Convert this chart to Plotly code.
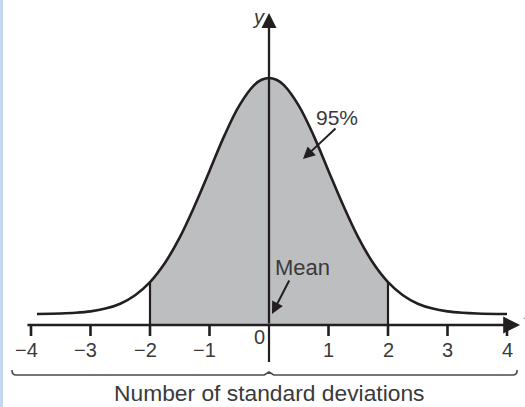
import plotly.graph_objects as go

# ---- data ----
curve_x = [-3.9, -3.5, -3.25, -3.0, -2.75, -2.5, -2.25, -2.0, -1.75, -1.5, -1.25, -1.0,
           -0.75, -0.5, -0.25, -0.125, 0.0, 0.125, 0.25, 0.5, 0.75, 1.0, 1.25, 1.5, 1.75, 2.0,
           2.25, 2.5, 2.75, 3.0, 3.25, 3.5, 4.0]
curve_y = [11.0, 11.5, 12.2, 13.6, 16.4, 21.3, 29.8, 42.9, 62.0, 87.6, 119.2, 154.1,
           189.4, 219.3, 239.8, 245.2, 247.0, 245.2, 239.8, 219.3, 189.4, 154.1, 119.2, 87.6, 62.0, 42.9,
           29.8, 21.3, 16.4, 13.6, 12.2, 11.5, 11.0]
shade_from, shade_to = -2.0, 2.0
tick_values = [-4, -3, -2, -1, 0, 1, 2, 3, 4]
tick_labels = ["\u22124", "\u22123", "\u22122", "\u22121", "0", "1", "2", "3", "4"]
x_title = "Number of standard deviations"
label_pct = "95%"
label_mean = "Mean"

INK = "#231f20"
TXT = "#3a3a3a"
FONT = "Liberation Sans, Arial, sans-serif"

fig = go.Figure()

# shaded area between -2 and 2 (spline filled down to the axis)
sx = [x for x in curve_x if shade_from <= x <= shade_to]
sy = [y for x, y in zip(curve_x, curve_y) if shade_from <= x <= shade_to]
fig.add_trace(go.Scatter(
    x=sx, y=sy, fill="tozeroy", fillcolor="#bcbec0", mode="lines",
    line=dict(color="rgba(0,0,0,0)", width=0, shape="spline"),
    hoverinfo="skip", showlegend=False))

# the curve
fig.add_trace(go.Scatter(
    x=curve_x, y=curve_y, mode="lines", line=dict(color=INK, width=2.6, shape="spline"),
    hoverinfo="skip", showlegend=False))

shapes = []
# vertical edges of the shaded region
for xe, ye in ((sx[0], sy[0]), (sx[-1], sy[-1])):
    shapes.append(dict(type="line", xref="x", yref="y", x0=xe, x1=xe, y0=0, y1=ye,
                       line=dict(color=INK, width=2.2)))
# ticks
for v in tick_values:
    if v != 0:
        shapes.append(dict(type="line", xref="x", yref="y", x0=v, x1=v, y0=0, y1=-11,
                           line=dict(color=INK, width=2.6)))
# y-axis lower extension
shapes.append(dict(type="line", xref="x", yref="y", x0=0, x1=0, y0=-37, y1=0,
                   line=dict(color=INK, width=2.2)))
# brace
bx0, bx1, by = -4.32, 4.17, -50
shapes.append(dict(type="path", xref="x", yref="y",
                   path=(f"M {bx0},{by+5} Q {bx0},{by} {bx0+0.07},{by} "
                         f"L {-0.08},{by} L 0,{by+3} L 0.08,{by} "
                         f"L {bx1-0.07},{by} Q {bx1},{by} {bx1},{by+5}"),
                   line=dict(color="#4a4a4a", width=1.6)))
# left blue border
shapes.append(dict(type="rect", xref="paper", yref="paper", x0=0, x1=3/525, y0=0, y1=1,
                   fillcolor="#c5d8ef", line=dict(width=0)))

annotations = []
# x axis with arrow
annotations.append(dict(x=4.22, y=0, ax=-4.085, ay=0, xref="x", yref="y", axref="x", ayref="y",
                        text="", showarrow=True, arrowhead=2, arrowsize=1.3, arrowwidth=2.6,
                        arrowcolor=INK))
# y axis with arrow
annotations.append(dict(x=0, y=312, ax=0, ay=0, xref="x", yref="y", axref="x", ayref="y",
                        text="", showarrow=True, arrowhead=2, arrowsize=1.3, arrowwidth=2.3,
                        arrowcolor=INK))
# tick labels
for v, t in zip(tick_values, tick_labels):
    if v == 0:
        annotations.append(dict(x=v, y=-12, xref="x", yref="y", text=t, showarrow=False,
                                xshift=-10, font=dict(family=FONT, size=20, color=TXT)))
    else:
        annotations.append(dict(x=v, y=-25, xref="x", yref="y", text=t, showarrow=False,
                                xshift=-5 if v < 0 else 0,
                                font=dict(family=FONT, size=20, color=TXT)))
# axis letters
annotations.append(dict(x=-0.17, y=308, xref="x", yref="y", text="<i>y</i>", showarrow=False,
                        font=dict(family=FONT, size=20, color=TXT)))
annotations.append(dict(x=4.24, y=12, xref="x", yref="y", text="<i>x</i>", showarrow=False,
                        xanchor="left", font=dict(family=FONT, size=16, color="#888")))
# x title
annotations.append(dict(x=0, y=-68, xref="x", yref="y", text=x_title, showarrow=False,
                        font=dict(family=FONT, size=22.8, color=TXT)))
# 95% label and arrow
annotations.append(dict(x=1.143, y=208, xref="x", yref="y", text=label_pct, showarrow=False,
                        font=dict(family=FONT, size=21, color=TXT)))
annotations.append(dict(x=0.571, y=166, ax=1.143, ay=198, xref="x", yref="y", axref="x", ayref="y",
                        text="", showarrow=True, arrowhead=2, arrowsize=1.2, arrowwidth=2,
                        arrowcolor=INK))
# Mean label and arrow
annotations.append(dict(x=0.555, y=58, xref="x", yref="y", text=label_mean, showarrow=False,
                        font=dict(family=FONT, size=22, color=TXT)))
annotations.append(dict(x=0.05, y=11, ax=0.353, ay=46, xref="x", yref="y", axref="x", ayref="y",
                        text="", showarrow=True, arrowhead=2, arrowsize=1.2, arrowwidth=2,
                        arrowcolor=INK))

fig.update_layout(
    width=525, height=407, margin=dict(l=0, r=0, t=0, b=0),
    paper_bgcolor="white", plot_bgcolor="white",
    xaxis=dict(range=[-4.521, 4.3025], visible=False, fixedrange=True),
    yaxis=dict(range=[-82, 325], visible=False, fixedrange=True),
    shapes=shapes, annotations=annotations, showlegend=False)

fig.write_html("out.html", config={"displayModeBar": False},
               post_script="document.body.style.margin='0';document.body.style.overflow='hidden';")
